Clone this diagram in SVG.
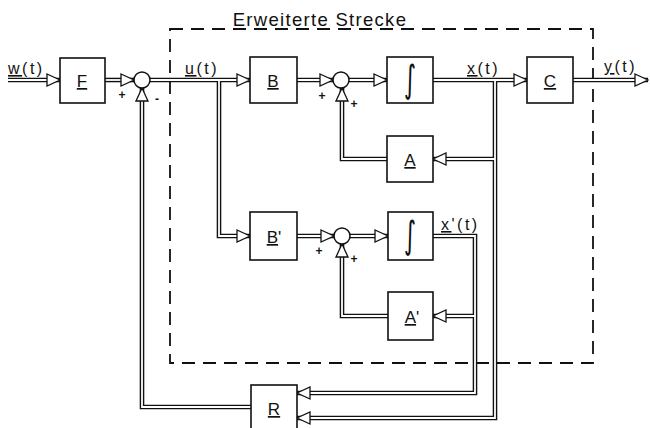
<svg xmlns="http://www.w3.org/2000/svg" width="650" height="428" viewBox="0 0 650 428">
<style>
.blk{fill:#fff;stroke:#111;stroke-width:1.6}
.sum{fill:#fff;stroke:#111;stroke-width:1.5}
.co{fill:none;stroke:#111;stroke-width:4.6;stroke-linejoin:miter}
.ci{fill:none;stroke:#fff;stroke-width:1.8;stroke-linejoin:miter}
.lbl{font-family:"Liberation Sans","DejaVu Sans",sans-serif;font-size:17px;fill:#111;text-anchor:middle}
.int{font-family:"DejaVu Sans",sans-serif;font-size:26px;fill:#111;text-anchor:middle}
.sig{font-family:"Liberation Sans","DejaVu Sans",sans-serif;font-size:16px;fill:#111;letter-spacing:2.5px}
.sgn{font-family:"Liberation Sans","DejaVu Sans",sans-serif;font-size:12px;font-weight:bold;fill:#111;text-anchor:middle}
.u{text-decoration:underline}
.dash{fill:none;stroke:#111;stroke-width:1.8;stroke-dasharray:13 8}
</style>
<defs>
<marker id="ah" markerUnits="userSpaceOnUse" markerWidth="15" markerHeight="15" viewBox="0 0 15 15" refX="14" refY="7.5" orient="auto">
<path d="M1,1.5 L14,7.5 L1,13.5 Z" fill="#fff" stroke="#111" stroke-width="1.3"/>
</marker>
</defs>
<g id="boundary">
<path class="dash" d="M170,29 H593 V363 H170 Z"/>
<text x="320" y="26" class="lbl" style="font-size:18.5px;letter-spacing:1.3px">Erweiterte Strecke</text>
</g>
<g id="connectors">
<g id="outer">
<path class="co" d="M8,80 H60"/>
<path class="co" d="M105,80 H134"/>
<path class="co" d="M150,80 H250"/>
<path class="co" d="M219,80 V236 H250"/>
<path class="co" d="M297,80 H333"/>
<path class="co" d="M349,80 H387"/>
<path class="co" d="M433,80 H527"/>
<path class="co" d="M573,80 H648"/>
<path class="co" d="M495,80 V418 H297"/>
<path class="co" d="M495,159 H433"/>
<path class="co" d="M387,159 H342 V88"/>
<path class="co" d="M297,236 H334"/>
<path class="co" d="M350,236 H388"/>
<path class="co" d="M433,236 H475 V393 H297"/>
<path class="co" d="M475,316 H433"/>
<path class="co" d="M388,316 H342 V244"/>
<path class="co" d="M251,407 H142 V88"/>
</g>
<g id="inner">
<path class="ci" d="M8,80 H60" marker-end="url(#ah)"/>
<path class="ci" d="M105,80 H134" marker-end="url(#ah)"/>
<path class="ci" d="M150,80 H250" marker-end="url(#ah)"/>
<path class="ci" d="M219,80 V236 H250" marker-end="url(#ah)"/>
<path class="ci" d="M297,80 H333" marker-end="url(#ah)"/>
<path class="ci" d="M349,80 H387" marker-end="url(#ah)"/>
<path class="ci" d="M433,80 H527" marker-end="url(#ah)"/>
<path class="ci" d="M573,80 H648" marker-end="url(#ah)"/>
<path class="ci" d="M495,80 V418 H297" marker-end="url(#ah)"/>
<path class="ci" d="M495,159 H433" marker-end="url(#ah)"/>
<path class="ci" d="M387,159 H342 V88" marker-end="url(#ah)"/>
<path class="ci" d="M297,236 H334" marker-end="url(#ah)"/>
<path class="ci" d="M350,236 H388" marker-end="url(#ah)"/>
<path class="ci" d="M433,236 H475 V393 H297" marker-end="url(#ah)"/>
<path class="ci" d="M475,316 H433" marker-end="url(#ah)"/>
<path class="ci" d="M388,316 H342 V244" marker-end="url(#ah)"/>
<path class="ci" d="M251,407 H142 V88" marker-end="url(#ah)"/>
</g>
</g>
<g id="F"><rect class="blk" x="60" y="58" width="45" height="45"/><text class="lbl u" x="82" y="87">F</text></g>
<g id="sum1"><circle class="sum" cx="142" cy="80" r="8"/><text class="sgn" x="122" y="99">+</text><text class="sgn" x="157" y="103">-</text></g>
<g id="B"><rect class="blk" x="250" y="57" width="47" height="46"/><text class="lbl u" x="273" y="87">B</text></g>
<g id="sum2"><circle class="sum" cx="341" cy="80" r="8"/><text class="sgn" x="322" y="100">+</text><text class="sgn" x="354" y="108">+</text></g>
<g id="Int1"><rect class="blk" x="387" y="57" width="46" height="46"/><text class="int" transform="translate(410,80) scale(0.9,1.45)" x="0" y="8">∫</text></g>
<g id="C"><rect class="blk" x="527" y="57" width="46" height="46"/><text class="lbl u" x="550" y="87">C</text></g>
<g id="A"><rect class="blk" x="387" y="136" width="46" height="46"/><text class="lbl u" x="410" y="166">A</text></g>
<g id="Bp"><rect class="blk" x="250" y="212" width="47" height="48"/><text class="lbl" x="274" y="243"><tspan class="u">B</tspan>'</text></g>
<g id="sum3"><circle class="sum" cx="342" cy="236" r="8"/><text class="sgn" x="319" y="255">+</text><text class="sgn" x="354" y="263">+</text></g>
<g id="Int2"><rect class="blk" x="388" y="212" width="45" height="48"/><text class="int" transform="translate(410,236) scale(0.9,1.45)" x="0" y="8">∫</text></g>
<g id="Ap"><rect class="blk" x="388" y="292" width="45" height="48"/><text class="lbl" x="412" y="323"><tspan class="u">A</tspan>'</text></g>
<g id="R"><rect class="blk" x="251" y="385" width="46" height="50"/><text class="lbl u" x="274" y="415">R</text></g>
<g id="labels">
<text class="sig" x="8" y="74"><tspan class="u">w</tspan>(t)</text>
<text class="sig" x="185" y="74"><tspan class="u">u</tspan>(t)</text>
<text class="sig" x="467" y="74"><tspan class="u">x</tspan>(t)</text>
<text class="sig" x="604" y="72"><tspan class="u">y</tspan>(t)</text>
<text class="sig" x="441" y="230"><tspan class="u">x</tspan>'(t)</text>
</g>
</svg>
